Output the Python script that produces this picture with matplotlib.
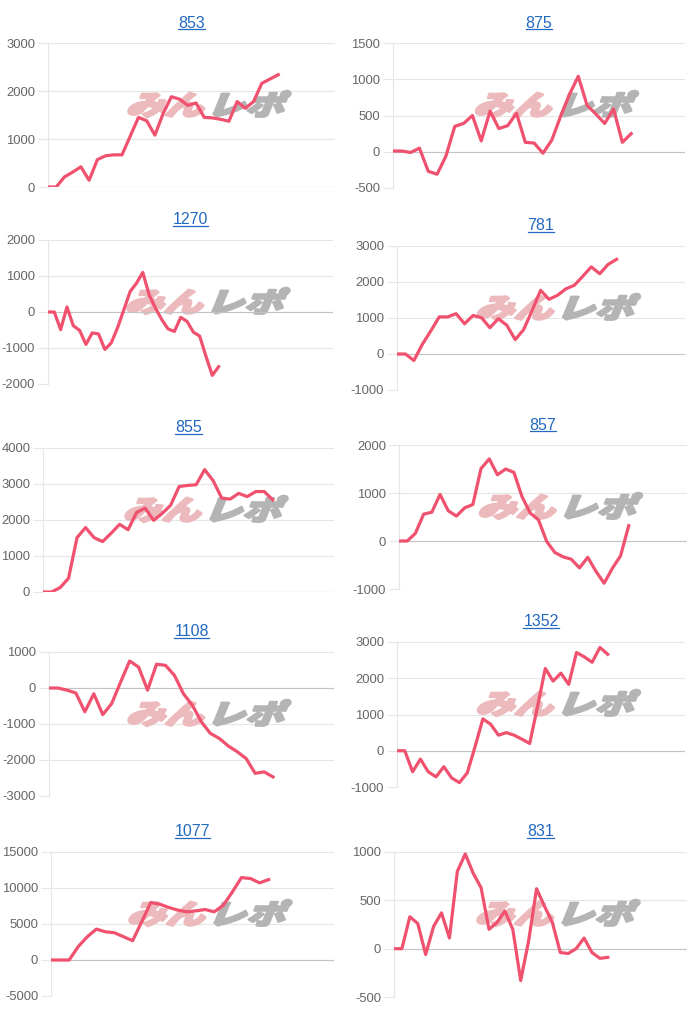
import matplotlib
matplotlib.use("Agg")
import matplotlib.pyplot as plt
from matplotlib.textpath import TextPath
from matplotlib.patches import PathPatch
from matplotlib.font_manager import FontProperties
from matplotlib.transforms import Affine2D, IdentityTransform
from matplotlib.lines import Line2D
from matplotlib.path import Path

plt.rcParams['font.family'] = ['Liberation Sans', 'DejaVu Sans']
plt.rcParams['axes.unicode_minus'] = False

# chart titles (machine numbers)
titles = ['853', '875', '1270', '781', '855', '857', '1108', '1352', '1077', '831']

# difference curves
d853 = [0, 0, 210, 310, 420, 140, 570, 650, 670, 670, 1060, 1450, 1380, 1080, 1530,
        1880, 1830, 1700, 1750, 1450, 1440, 1410, 1370, 1780, 1640, 1780, 2160, 2250, 2340]
d875 = [10, 10, -10, 50, -270, -310, -60, 350, 390, 500, 150, 560, 320, 360, 530,
        130, 120, -20, 160, 490, 790, 1040, 640, 520, 390, 590, 130, 250]
d1270 = [0, 0, -490, 140, -380, -510, -900, -580, -610, -1040, -860, -440, 60, 570, 800,
         1100, 480, 110, -210, -470, -540, -150, -260, -560, -670, -1230, -1760, -1520]
d781 = [0, 0, -180, 270, 640, 1030, 1030, 1120, 840, 1070, 1010, 730, 980, 800, 400,
        680, 1210, 1770, 1520, 1630, 1810, 1910, 2160, 2420, 2230, 2490, 2630]
d855 = [0, 0, 120, 380, 1510, 1790, 1510, 1400, 1630, 1880, 1730, 2210, 2330, 1990, 2180,
        2410, 2930, 2960, 2980, 3400, 3090, 2610, 2580, 2740, 2650, 2790, 2790, 2560]
d857 = [0, 0, 160, 560, 600, 970, 630, 520, 690, 760, 1510, 1710, 1380, 1500, 1430,
        920, 580, 440, -10, -240, -330, -380, -560, -340, -630, -880, -570, -310, 320]
d1108 = [0, 0, -60, -140, -660, -160, -740, -430, 170, 750, 580, -60, 660, 630, 350,
         -160, -480, -940, -1260, -1400, -1610, -1770, -1960, -2370, -2330, -2470]
d1352 = [0, 0, -580, -230, -580, -720, -440, -750, -880, -610, 110, 880, 730, 430, 500,
         430, 320, 200, 1210, 2270, 1920, 2140, 1830, 2710, 2590, 2440, 2850, 2660]
d1077 = [0, 0, 0, 1850, 3230, 4290, 3920, 3780, 3230, 2680, 5300, 7980, 7750, 7290, 6920,
         6690, 6830, 7010, 6690, 7620, 9460, 11450, 11310, 10710, 11170]
d831 = [0, 0, 330, 260, -60, 230, 370, 110, 800, 980, 780, 630, 200, 270, 390,
        200, -330, 80, 620, 440, 270, -40, -50, 0, 110, -40, -100, -90]
series = [d853, d875, d1270, d781, d855, d857, d1108, d1352, d1077, d831]

# y ranges and tick steps
y_ranges = [(0, 3000), (-500, 1500), (-2000, 2000), (-1000, 3000), (0, 4000),
            (-1000, 2000), (-3000, 1000), (-1000, 3000), (-5000, 15000), (-500, 1000)]
y_steps = [1000, 500, 1000, 1000, 1000, 1000, 1000, 1000, 5000, 500]

# layout: plot boxes in pixels (left, top, right, bottom) and x extent
boxes = [(48, 43, 335, 187), (393, 43, 685, 188),
         (48, 240, 333, 384), (397, 246, 685, 390),
         (43, 448, 334, 592), (399, 445, 687, 589),
         (49, 652, 334, 796), (397, 642, 685, 787),
         (51, 852, 334, 996), (394, 852, 687, 997)]
x_ends = [34.9, 33.1, 45.1, 34.1, 34.2, 35.1, 31.8, 36.9, 31.2, 37.0]

W, H = 700, 1011
LINE = '#f0516f'
GRID = '#e6e6e6'

fig = plt.figure(figsize=(W / 100, H / 100), dpi=100)

# watermark glyphs (みんレポ logo)
fp = FontProperties(family=['Noto Sans CJK JP'], weight='black')
skew = Affine2D().skew_deg(16, 0)
p_min = skew.transform_path(TextPath((0, 0), 'みん', size=100, prop=fp))
p_repo = TextPath((0, 0), 'レポ', size=100, prop=fp)
off = p_min.get_extents().x1 + 4
p_repo = Affine2D().skew_deg(16, 0).translate(off, 0).transform_path(p_repo)
ext_all = Path.make_compound_path(p_min, p_repo).get_extents()


def watermark(ax, cx, cy, w=162, h=26):
    sx = w / ext_all.width
    sy = h / ext_all.height
    tr = (Affine2D().translate(-ext_all.x0, -ext_all.y0).scale(sx, sy)
          .translate(cx - w / 2, H - cy - h / 2))
    for p, c in ((p_min, '#ecb9bd'), (p_repo, '#b4b4b4')):
        patch = PathPatch(tr.transform_path(p), facecolor=c, edgecolor=c, lw=1.8,
                          joinstyle='round', transform=IdentityTransform(),
                          zorder=1.2, clip_on=False)
        ax.add_artist(patch)


title_texts = []
for title, vals, (lo, hi), step, (l, t, r, b), xe in zip(
        titles, series, y_ranges, y_steps, boxes, x_ends):
    ax = fig.add_axes([l / W, 1 - b / H, (r - l) / W, (b - t) / H])
    ax.plot(range(len(vals)), vals, color=LINE, lw=2.3, solid_joinstyle='round',
            zorder=3)
    ax.set_xlim(0, xe)
    ax.set_ylim(lo, hi)
    ax.set_yticks(range(lo, hi + 1, step))
    ax.set_xticks([])
    ax.yaxis.grid(True, color=GRID, lw=0.8)
    ax.set_axisbelow(True)
    ax.axhline(0, color='#c4c4c4', lw=0.8, zorder=1.5)
    ax.tick_params(axis='y', length=7.2, width=0.8, color=GRID, labelsize=9.4,
                   labelcolor='#666666', pad=2)
    for s in ('top', 'right', 'bottom'):
        ax.spines[s].set_visible(False)
    ax.spines['left'].set_color(GRID)
    ax.spines['left'].set_linewidth(0.8)
    ax.patch.set_alpha(0)
    watermark(ax, (l + r) / 2 + 18, t + 61)
    txt = fig.text((l + r) / 2 / W, 1 - (t - 20) / H, title, ha='center', va='center',
                   fontsize=11.5, color='#2369c0')
    title_texts.append(txt)

fig.canvas.draw()
for txt in title_texts:
    bb = txt.get_window_extent()
    y = bb.y0 + 2
    fig.add_artist(Line2D([bb.x0, bb.x1], [y, y], color='#2369c0', lw=0.9,
                          transform=IdentityTransform()))

fig.savefig('out.png', dpi=100)
